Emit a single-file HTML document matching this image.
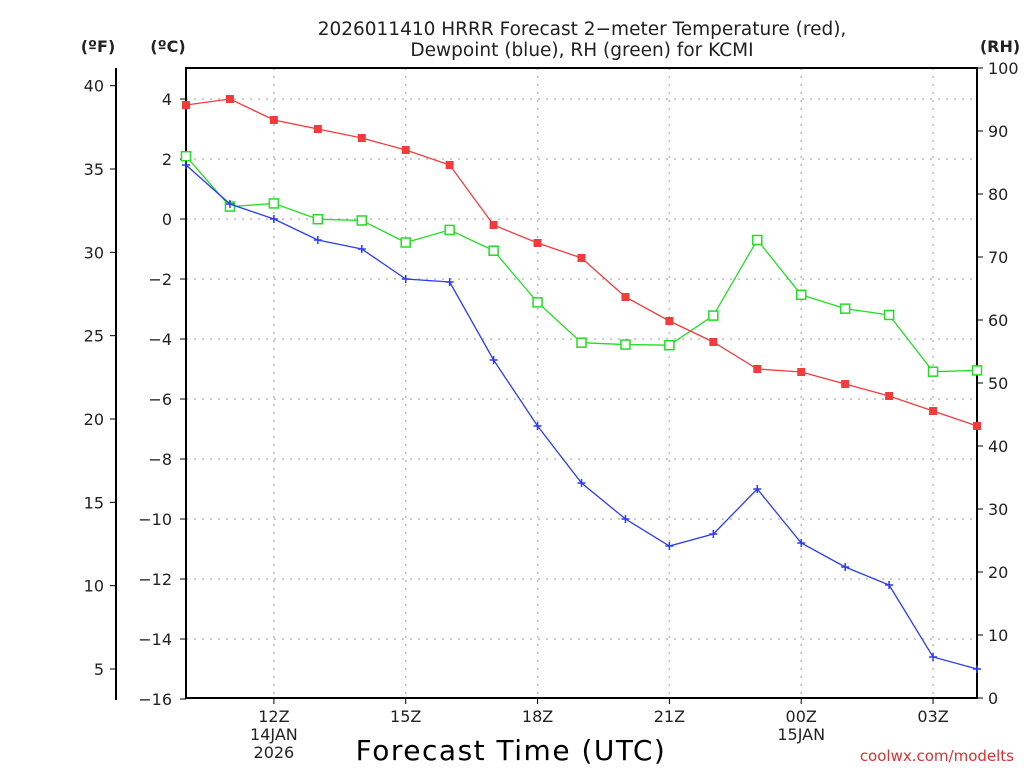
<!DOCTYPE html>
<html><head><meta charset="utf-8"><style>
body{margin:0;background:#fff;}
svg text{font-family:"DejaVu Sans","Liberation Sans",sans-serif;}
</style></head><body>
<svg id="c" width="1024" height="768" xmlns="http://www.w3.org/2000/svg"></svg>
<script>
const hours=[10,11,12,13,14,15,16,17,18,19,20,21,22,23,24,25,26,27,28];
const tempC=[3.8,4.0,3.3,3.0,2.7,2.3,1.8,-0.2,-0.8,-1.3,-2.6,-3.4,-4.1,-5.0,-5.1,-5.5,-5.9,-6.4,-6.9];
const dewC=[1.8,0.5,0,-0.7,-1.0,-2.0,-2.1,-4.7,-6.9,-8.8,-10.0,-10.9,-10.5,-9.0,-10.8,-11.6,-12.2,-14.6,-15.0];
const rh=[86,78,78.5,76,75.8,72.3,74.3,71,62.8,56.4,56.1,56,60.7,72.7,64,61.8,60.8,51.8,52];
const cTicks=[4,2,0,-2,-4,-6,-8,-10,-12,-14,-16];
const fTicks=[40,35,30,25,20,15,10,5];
const rhTicks=[100,90,80,70,60,50,40,30,20,10,0];
const xTickHours=[12,15,18,21,24,27];
const xTickLabels=["12Z","15Z","18Z","21Z","00Z","03Z"];
const NS="http://www.w3.org/2000/svg";
const svg=document.getElementById('c');
const L=186,R=977,T=68,B=698;
const X=h=>L+(h-10)*(R-L)/18;
const YC=c=>219-c*30;
const YF=f=>YC((f-32)*5/9);
const YR=r=>B-r*(B-T)/100;
function el(tag,attrs,parent){const e=document.createElementNS(NS,tag);for(const k in attrs)e.setAttribute(k,attrs[k]);(parent||svg).appendChild(e);return e;}
function txt(x,y,s,attrs){const t=el('text',Object.assign({x:x,y:y,'font-size':16,fill:'#222'},attrs||{}));t.textContent=s;return t;}
for(const c of cTicks){if(c<=-16)continue;const g=el('line',{x1:L,x2:R,y1:YC(c),y2:YC(c),stroke:'#bbb','stroke-dasharray':'2,6','stroke-width':1.5});
}
for(const h of xTickHours){const g=el('line',{x1:X(h),x2:X(h),y1:T,y2:B,stroke:'#bbb','stroke-dasharray':'2,6','stroke-width':1.5});
}
const fr=el('rect',{x:L,y:T,width:R-L,height:B-T,fill:'none',stroke:'#000','stroke-width':2});

for(const c of cTicks){el('line',{x1:L-6,x2:L,y1:YC(c),y2:YC(c),stroke:'#000'});
const t=txt(L-14,YC(c)+6,(c<0?'\u2212':'')+Math.abs(c),{'text-anchor':'end'});}
el('line',{x1:116,x2:116,y1:68,y2:700,stroke:'#000','stroke-width':2});
for(const f of fTicks){el('line',{x1:110,x2:116,y1:YF(f),y2:YF(f),stroke:'#000'});
const t=txt(104,YF(f)+6,String(f),{'text-anchor':'end'});}
for(const r of rhTicks){el('line',{x1:R,x2:R+6,y1:YR(r),y2:YR(r),stroke:'#000'});
const t=txt(988,YR(r)+6,String(r));}
xTickHours.forEach((h,i)=>{el('line',{x1:X(h),x2:X(h),y1:B,y2:B+6,stroke:'#000'});
const t=txt(X(h),B+24,xTickLabels[i],{'text-anchor':'middle'});});
txt(X(12),B+42,'14JAN',{'text-anchor':'middle'});txt(X(12),B+60,'2026',{'text-anchor':'middle'});
txt(X(24),B+42,'15JAN',{'text-anchor':'middle'});
function series(vals,yf,color,marker,name){
const pts=vals.map((v,i)=>X(hours[i])+','+yf(v)).join(' ');
const pl=el('polyline',{points:pts,fill:'none',stroke:color,'stroke-width':1.3});

vals.forEach((v,i)=>{const x=X(hours[i]),y=yf(v);let m;
if(marker==='fill')m=el('rect',{x:x-4,y:y-4,width:8,height:8,fill:color});
else if(marker==='open')m=el('rect',{x:x-4.5,y:y-4.5,width:9,height:9,fill:'#fff',stroke:color,'stroke-width':1.5});
else{m=el('path',{d:`M${x-4} ${y}H${x+4}M${x} ${y-4}V${y+4}`,stroke:color,'stroke-width':1.5});}
});}
series(rh,YR,'#22dd22','open','rh');
series(tempC,YC,'#f23c3c','fill','temperature');
series(dewC,YC,'#2a3cf5','plus','dewpoint');
let t=txt(582,35,'2026011410 HRRR Forecast 2\u2212meter Temperature (red),',{'text-anchor':'middle','font-size':18.5});
t=txt(582,56,'Dewpoint (blue), RH (green) for KCMI',{'text-anchor':'middle','font-size':18.5});
t=txt(98,52,'(ºF)',{'text-anchor':'middle','font-weight':'bold'});
t=txt(168,52,'(ºC)',{'text-anchor':'middle','font-weight':'bold'});
t=txt(1000,52,'(RH)',{'text-anchor':'middle','font-weight':'bold'});
t=txt(511,760,'Forecast Time (UTC)',{'text-anchor':'middle','font-size':28,'letter-spacing':1.5,fill:'#000'});
t=txt(1014,761,'coolwx.com/modelts',{'text-anchor':'end','font-size':15,fill:'#e03030'});
</script>
</body></html>
